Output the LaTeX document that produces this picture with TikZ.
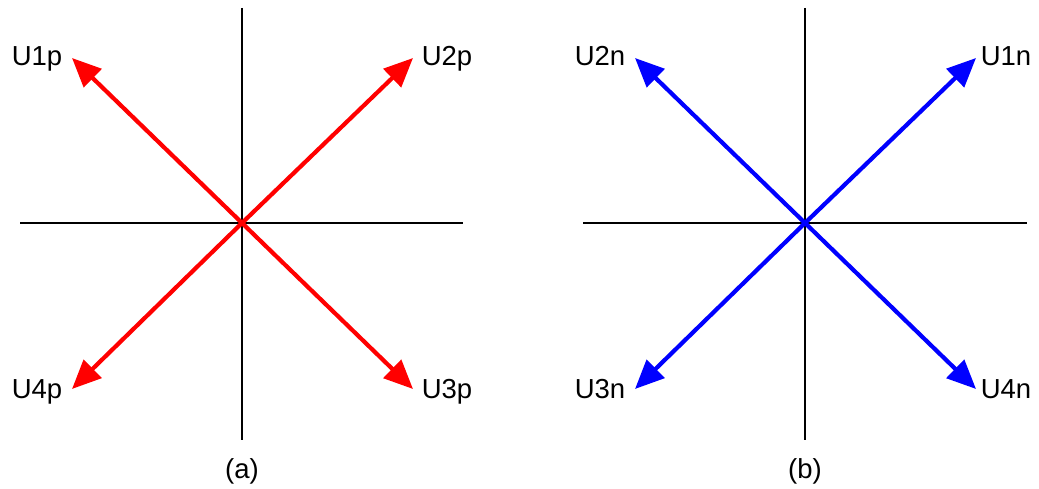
\documentclass[tikz,border=0pt]{standalone}
\usepackage{fontspec}
\setmainfont{Liberation Sans}
\usetikzlibrary{arrows.meta,positioning}
\tikzset{axis/.style={line width=1.5pt},
  vec/.style={line width=4.2pt,-{Triangle[length=29pt,width=25pt]}},
  lbl/.style={font=\fontsize{27.5}{32}\selectfont,inner sep=0pt,anchor=base}}

\begin{document}
\begin{tikzpicture}[x=1pt,y=-1pt]
  \useasboundingbox (0,0) rectangle (1039,489);
  % (a) positive sequence
  \coordinate (Oa) at (242,223);
  \coordinate (Ta) at (242,8);\coordinate (Ba) at (242,440);\coordinate (La) at (20,223);\coordinate (Ra) at (463,223);
  \draw[axis] (Ta)--(Ba);\draw[axis] (La)--(Ra);
  \coordinate (A1) at (72,58);\coordinate (A2) at (413,58);\coordinate (A3) at (413,389);\coordinate (A4) at (72,389);
  \foreach \P in {A1,A2,A3,A4}{\draw[vec,red] (Oa)--(\P);}
  \node[lbl] (U1p) at (37,66) {U1p};\node[lbl] (U2p) at (447,66) {U2p};
  \node[lbl] (U3p) at (447,398) {U3p};\node[lbl] (U4p) at (37,398) {U4p};
  \node[lbl] (capa) at (242,478) {(a)};
  % (b) negative sequence
  \coordinate (Ob) at (805,223);
  \coordinate (Tb) at (805,8);\coordinate (Bb) at (805,440);\coordinate (Lb) at (583,223);\coordinate (Rb) at (1027,223);
  \draw[axis] (Tb)--(Bb);\draw[axis] (Lb)--(Rb);
  \coordinate (B1) at (976,58);\coordinate (B2) at (635,58);\coordinate (B3) at (635,389);\coordinate (B4) at (976,389);
  \foreach \P in {B1,B2,B3,B4}{\draw[vec,blue] (Ob)--(\P);}
  \node[lbl] (U1n) at (1006,66) {U1n};\node[lbl] (U2n) at (600,66) {U2n};
  \node[lbl] (U3n) at (600,398) {U3n};\node[lbl] (U4n) at (1006,398) {U4n};
  \node[lbl] (capb) at (805,478) {(b)};
\end{tikzpicture}
\end{document}
